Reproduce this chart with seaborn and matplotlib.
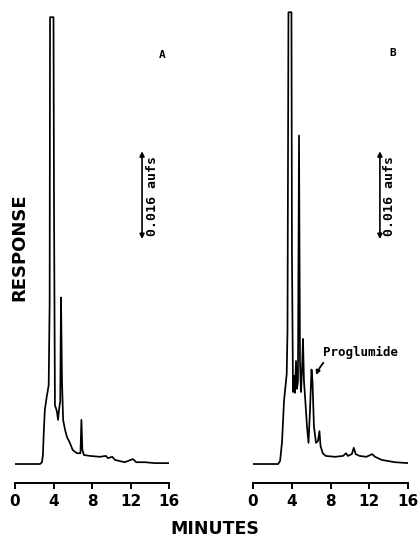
"""Chromatogram panels A and B (blank vs. proglumide-spiked sample)."""

import matplotlib
matplotlib.use("Agg")
import matplotlib.pyplot as plt
import numpy as np
import pandas as pd
import seaborn as sns

sns.set_theme(style="white")
plt.rcParams["font.family"] = ["DejaVu Sans"]
plt.rcParams["text.color"] = "black"
plt.rcParams["xtick.color"] = "black"

# --- data (minutes, relative detector response) ---
time_a = [0.0, 2.6, 2.8, 2.9, 3.0, 3.1, 3.3, 3.5, 3.6, 3.64, 4.0, 4.05, 4.15, 4.26,
          4.36, 4.47, 4.57, 4.7, 4.78, 4.88, 5.0, 5.2, 5.4, 5.7, 6.0, 6.44, 6.8,
          6.9, 7.0, 7.17, 7.8, 8.8, 9.45, 9.65, 10.1, 10.4, 11.4, 12.25, 12.6,
          13.5, 14.5, 16.0]
resp_a = [0.0, 0.0, 0.4, 2.0, 7.6, 12.0, 15.0, 17.5, 36.0, 99.3, 99.3, 59.0, 13.0,
          12.4, 11.6, 9.8, 12.0, 14.0, 37.0, 18.7, 9.8, 7.6, 6.0, 4.7, 3.1, 2.4,
          2.4, 9.8, 3.1, 2.0, 1.8, 1.6, 1.8, 1.3, 1.6, 0.9, 0.4, 1.1, 0.4, 0.4,
          0.2, 0.2]

time_b = [0.0, 2.6, 2.8, 3.0, 3.2, 3.48, 3.56, 3.66, 3.97, 4.02, 4.13, 4.23, 4.33,
          4.44, 4.54, 4.64, 4.75, 4.85, 4.95, 5.06, 5.16, 5.26, 5.37, 5.47, 5.57,
          5.73, 5.88, 6.04, 6.14, 6.29, 6.5, 6.7, 6.86, 6.97, 7.2, 7.5, 8.46, 9.3,
          9.6, 9.8, 10.2, 10.4, 10.6, 11.0, 11.7, 12.3, 12.6, 13.3, 14.65, 16.0]
resp_b = [0.0, 0.0, 0.7, 5.0, 14.0, 20.0, 29.6, 100.4, 100.4, 47.0, 16.0, 19.6,
          15.8, 22.9, 16.7, 18.4, 73.0, 22.9, 16.0, 20.7, 27.8, 18.4, 15.0, 11.8,
          8.4, 4.7, 11.8, 21.0, 18.4, 8.4, 4.7, 5.1, 7.3, 4.0, 2.4, 1.8, 1.6, 1.8,
          2.4, 1.8, 2.2, 3.6, 2.2, 1.8, 1.6, 2.2, 1.6, 0.9, 0.4, 0.2]

minute_ticks = [0, 4, 8, 12, 16]
panel_labels = ["A", "B"]
scale_text = "0.016 aufs"
peak_name = "Proglumide"

df = pd.concat([
    pd.DataFrame({"Minutes": time_a, "Response": resp_a, "Panel": "A"}),
    pd.DataFrame({"Minutes": time_b, "Response": resp_b, "Panel": "B"}),
])

W, H = 419, 537
fig = plt.figure(figsize=(W / 100, H / 100), dpi=100)
ax_a = fig.add_axes([15 / W, (H - 483) / H, 154 / W, 473 / H])
ax_b = fig.add_axes([253 / W, (H - 483) / H, 155 / W, 473 / H])

mono = ["DejaVu Sans Mono"]
for ax, panel in zip((ax_a, ax_b), panel_labels):
    sub = df[df["Panel"] == panel]
    sns.lineplot(data=sub, x="Minutes", y="Response", ax=ax, color="black",
                 linewidth=1.25, estimator=None, sort=False, legend=False)
    ax.set_xlim(0, 16)
    ax.set_ylim(-4.22, 100.9)
    for side in ("left", "right", "top"):
        ax.spines[side].set_visible(False)
    ax.spines["bottom"].set_linewidth(1.4)
    ax.spines["bottom"].set_color("black")
    ax.set_xticks(minute_ticks)
    ax.set_xticklabels([str(t) for t in minute_ticks], fontsize=11, fontweight="bold")
    ax.tick_params(axis="x", direction="out", length=4, width=1.4, pad=4,
                   colors="black", bottom=True)
    ax.set_yticks([])
    ax.set_xlabel("")
    ax.set_ylabel("")
    ax.patch.set_alpha(0)

# panel letters
ax_a.text(15.3, 90.9, "A", family=mono, fontsize=8, fontweight="bold", ha="center", va="center")
ax_b.text(14.45, 91.3, "B", family=mono, fontsize=8, fontweight="bold", ha="center", va="center")

# full-scale arrows
for ax, xa, xt in ((ax_a, 13.2, 14.3), (ax_b, 13.1, 14.1)):
    ax.annotate("", xy=(xa, 69.5), xytext=(xa, 50.0),
                arrowprops=dict(arrowstyle="<|-|>", lw=1.2, color="black",
                                mutation_scale=7, shrinkA=0, shrinkB=0))
    ax.text(xt, 59.6, scale_text, family=mono, fontsize=9.5, fontweight="bold",
            rotation=90, ha="center", va="center")

# proglumide label
ax_b.annotate(peak_name, xy=(6.5, 19.8), xytext=(7.22, 24.9), family=mono,
              fontsize=9, fontweight="bold", ha="left", va="center",
              arrowprops=dict(arrowstyle="-|>", lw=1.3, color="black",
                              mutation_scale=6, shrinkA=1, shrinkB=0,
                              connectionstyle="arc3,rad=0.4"))

fig.text(19 / W, 1 - 247 / H, "RESPONSE", rotation=90, fontsize=13,
         fontweight="bold", ha="center", va="center")
fig.text(215 / W, 1 - 529 / H, "MINUTES", fontsize=12.5, fontweight="bold",
         ha="center", va="center")

fig.savefig("out.png", dpi=100)
